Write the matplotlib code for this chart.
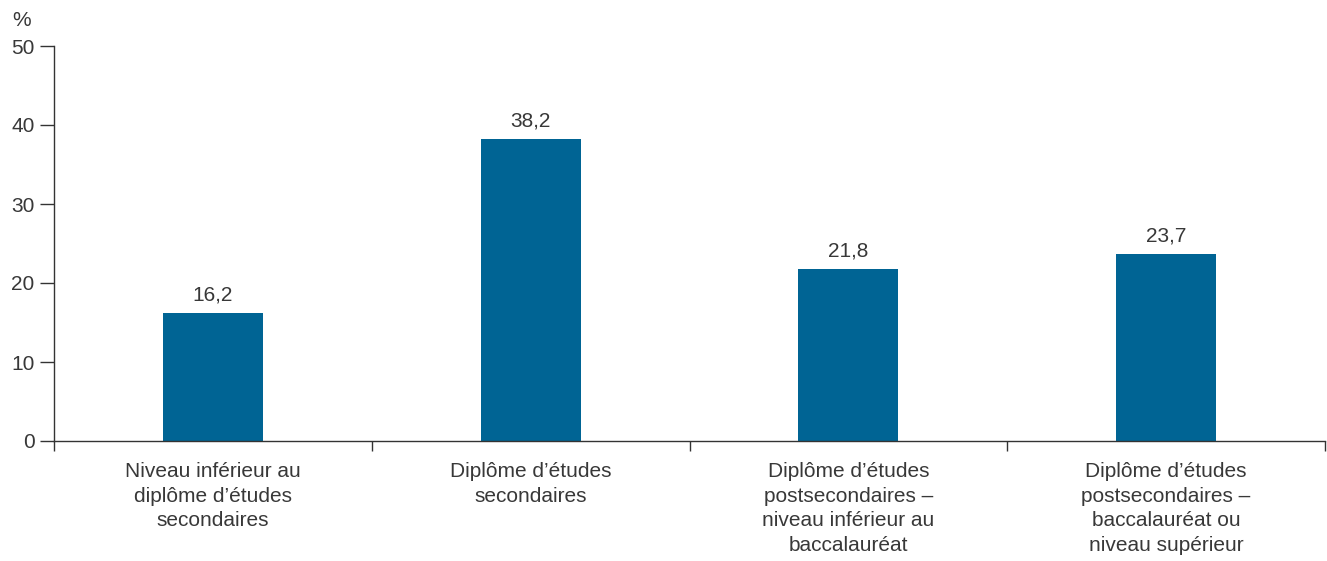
import matplotlib.pyplot as plt
import numpy as np

# share of population by highest level of education (%)
categories = [
    "Niveau inférieur au\ndiplôme d\u2019études\nsecondaires",
    "Diplôme d\u2019études\nsecondaires",
    "Diplôme d\u2019études\npostsecondaires \u2013\nniveau inférieur au\nbaccalauréat",
    "Diplôme d\u2019études\npostsecondaires \u2013\nbaccalauréat ou\nniveau supérieur",
]
values = [16.2, 38.2, 21.8, 23.7]
y_ticks = [0, 10, 20, 30, 40, 50]

plt.rcParams['font.family'] = ['Liberation Sans', 'DejaVu Sans']
text_color = '#383838'
fs = 15

fig = plt.figure(figsize=(13.27, 5.61), dpi=100)
ax = fig.add_axes([54 / 1327, 120 / 561, 1271 / 1327, 395 / 561])

x = np.arange(len(values))
bars = ax.bar(x, values, width=0.315, color='#006494')
for b, v in zip(bars, values):
    ax.annotate(f"{v:.1f}".replace('.', ','), (b.get_x() + b.get_width() / 2, v),
                xytext=(0, 6), textcoords='offset points', ha='center', va='bottom',
                fontsize=fs, color=text_color)

ax.set_xlim(-0.5, len(values) - 0.5)
ax.set_ylim(0, 50)
ax.set_yticks(y_ticks)
ax.tick_params(axis='y', length=10, width=1, colors='#333333', labelsize=fs,
               labelcolor=text_color, pad=4)

# category labels under the bars, tick marks at the boundaries
ax.set_xticks(x)
ax.set_xticklabels(categories, fontsize=fs, color=text_color, linespacing=1.38)
ax.tick_params(axis='x', which='major', length=0, pad=15)
ax.set_xticks(np.arange(-0.5, len(values)), minor=True)
ax.tick_params(axis='x', which='minor', length=7, width=1, colors='#333333')

for side in ['top', 'right']:
    ax.spines[side].set_visible(False)
for side in ['left', 'bottom']:
    ax.spines[side].set_color('#333333')
    ax.spines[side].set_linewidth(1)

ax.text(-0.033, 1.04, '%', transform=ax.transAxes, fontsize=fs, color=text_color,
        ha='left', va='bottom')

fig.savefig('out.png', dpi=100)
